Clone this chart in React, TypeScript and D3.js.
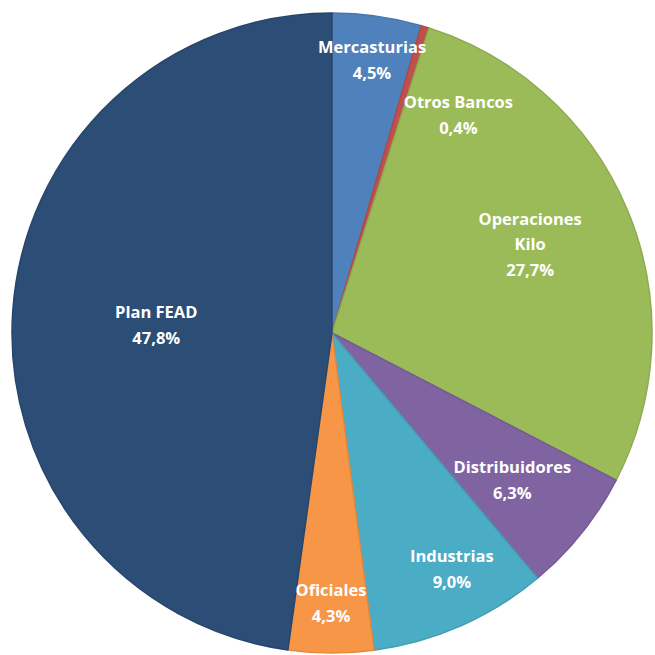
import React from "react";
import * as d3 from "d3";

const categories = ["Mercasturias", "Otros Bancos", "Operaciones Kilo", "Distribuidores", "Industrias", "Oficiales", "Plan FEAD"];
const labelLines = [["Mercasturias"], ["Otros Bancos"], ["Operaciones", "Kilo"], ["Distribuidores"], ["Industrias"], ["Oficiales"], ["Plan FEAD"]];
const values = [4.5, 0.4, 27.7, 6.3, 9.0, 4.3, 47.8];
const colors = ["#4F81BD", "#C0504D", "#9BBB59", "#8064A2", "#4BACC6", "#F79646", "#2C4D75"];

// label placement (radius fraction, angle in degrees from 12 o'clock)
const labelRadius = [0.866, 0.79, 0.68, 0.725, 0.825, 0.84, 0.55];
const labelAngle = [8.3, 30, 65.6, 129, 153, 180.2, 273];

export default function App() {
  const W = 655, H = 655;
  const cx = 332, cy = 333, R = 320;
  const pie = d3.pie<number>().sort(null).value((d) => d).startAngle(0).endAngle(2 * Math.PI);
  const arcs = pie(values);
  const arc = d3.arc<d3.PieArcDatum<number>>().innerRadius(0).outerRadius(R);
  const lineH = 25.5;
  return (
    <svg width={W} height={H} style={{ position: "absolute", left: 0, top: 0 }}>
      <rect width={W} height={H} fill="#fff" />
      <g transform={`translate(${cx},${cy})`}>
        {arcs.map((a, i) => (
          <path key={i} d={arc(a) || ""} fill={colors[i]} stroke={d3.color(colors[i])!.darker(0.25).toString()} strokeWidth={1.5} strokeLinejoin="round" />
        ))}
        {arcs.map((a, i) => {
          const ang = (labelAngle[i] * Math.PI) / 180;
          const r = labelRadius[i] * R;
          const x = r * Math.sin(ang);
          const y = -r * Math.cos(ang);
          const lines = [...labelLines[i], values[i].toFixed(1).replace(".", ",") + "%"];
          const y0 = y - ((lines.length - 1) * lineH) / 2;
          return (
            <text key={"t" + i} x={x} y={y0} textAnchor="middle" fill="#fff" fontFamily="'Open Sans', sans-serif" fontWeight="bold" fontSize={16.5} dominantBaseline="central">
              {lines.map((l, j) => (
                <tspan key={j} x={x} y={y0 + j * lineH}>{l}</tspan>
              ))}
            </text>
          );
        })}
      </g>
    </svg>
  );
}
